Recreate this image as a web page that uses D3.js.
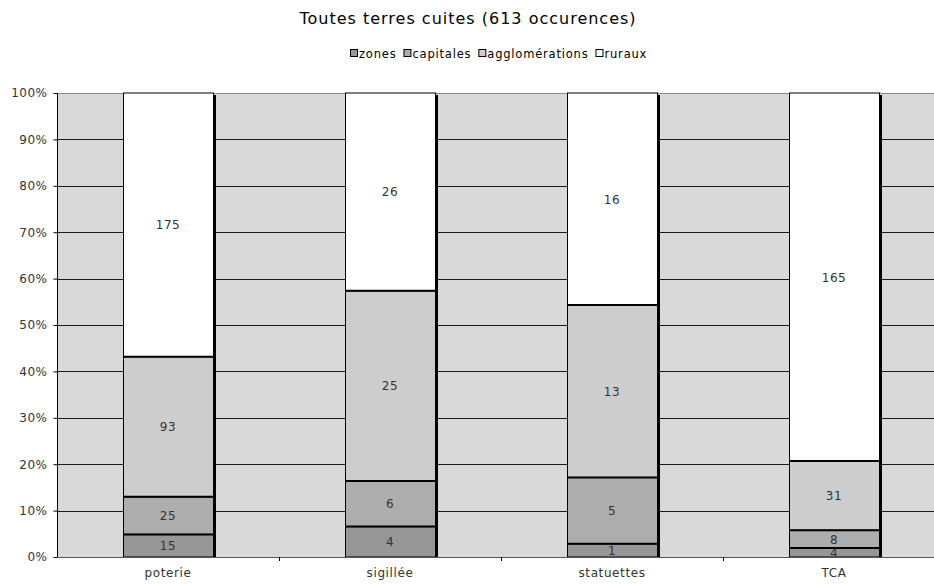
<!DOCTYPE html>
<html>
<head>
<meta charset="utf-8">
<script src="https://cdn.jsdelivr.net/npm/d3@7"></script>
<style>
    body { margin: 0; background: #fff; }
    svg { display: block; font-family: "DejaVu Sans", Verdana, sans-serif; }
</style>
</head>
<body>
<svg id="chart" width="934" height="584"></svg>
<script>
// Chart data
const categories = ['poterie', 'sigillée', 'statuettes', 'TCA'];
const seriesNames = ['zones', 'capitales', 'agglomérations', 'ruraux'];
const zones = [15, 4, 1, 4];
const capitales = [25, 6, 5, 8];
const agglomerations = [93, 25, 13, 31];
const ruraux = [175, 26, 16, 165];
const yTicks = [0, 0.1, 0.2, 0.3, 0.4, 0.5, 0.6, 0.7, 0.8, 0.9, 1];

const seriesColors = ['#969696', '#adadad', '#cdcdcd', '#ffffff'];

const svg = d3.select('#chart');
const width = 934;
const height = 584;
const margin = { top: 93, right: -11, bottom: 27, left: 57 };
const font = '"DejaVu Sans", Verdana, sans-serif';

// Build rows for the stack
const rows = categories.map((c, i) => ({
    category: c,
    zones: zones[i],
    capitales: capitales[i],
    'agglomérations': agglomerations[i],
    ruraux: ruraux[i]
}));

const stack = d3.stack()
    .keys(seriesNames)
    .offset(d3.stackOffsetExpand);
const layers = stack(rows);

const x = d3.scaleBand()
    .domain(categories)
    .range([margin.left, width - margin.right])
    .paddingInner(0.595)
    .paddingOuter(0.2975);

const y = d3.scaleLinear()
    .domain([0, 1])
    .range([height - margin.bottom, margin.top]);

// Title
svg.append('text')
    .attr('x', 468)
    .attr('y', 24)
    .attr('text-anchor', 'middle')
    .attr('font-size', '16px')
    .attr('letter-spacing', '1px')
    .attr('fill', '#000')
    .text('Toutes terres cuites (613 occurences)');

// Plot background
svg.append('rect')
    .attr('x', margin.left)
    .attr('y', margin.top)
    .attr('width', width - margin.left)
    .attr('height', y(0) - y(1))
    .attr('fill', '#d9d9d9');

// Gridlines
svg.append('g')
    .selectAll('line')
    .data(yTicks.filter(t => t > 0))
    .join('line')
    .attr('x1', margin.left)
    .attr('x2', width)
    .attr('y1', d => Math.round(y(d)) + 0.5)
    .attr('y2', d => Math.round(y(d)) + 0.5)
    .attr('stroke', d => d === 1 ? '#8a8a8a' : '#1a1a1a')
    .attr('stroke-width', 1);

// Bars
const barGroups = svg.append('g')
    .selectAll('g')
    .data(layers)
    .join('g')
    .attr('fill', (d, i) => seriesColors[i]);

barGroups.selectAll('rect')
    .data(d => d)
    .join('rect')
    .attr('x', d => Math.round(x(d.data.category)) + 0.5)
    .attr('y', d => y(d[1]))
    .attr('width', Math.round(x.bandwidth()))
    .attr('height', d => y(d[0]) - y(d[1]))
    .attr('stroke', '#000')
    .attr('stroke-width', 1);

// Thicker separators between segments
svg.append('g')
    .selectAll('line')
    .data(layers.slice(0, 3).flatMap(l => l.map(d => ({ cat: d.data.category, v: d[1] }))))
    .join('line')
    .attr('x1', d => Math.round(x(d.cat)))
    .attr('x2', d => Math.round(x(d.cat)) + Math.round(x.bandwidth()))
    .attr('y1', d => y(d.v))
    .attr('y2', d => y(d.v))
    .attr('stroke', '#000')
    .attr('stroke-width', 2);

// Shadow on the right edge of each bar
svg.append('g')
    .selectAll('line')
    .data(categories)
    .join('line')
    .attr('x1', d => Math.round(x(d)) + Math.round(x.bandwidth()) + 1.5)
    .attr('x2', d => Math.round(x(d)) + Math.round(x.bandwidth()) + 1.5)
    .attr('y1', y(1) + 2)
    .attr('y2', y(0))
    .attr('stroke', '#000')
    .attr('stroke-width', 3);

// Value labels
barGroups.selectAll('text')
    .data((d, i) => d.map(p => ({ p, key: seriesNames[i] })))
    .join('text')
    .attr('x', d => x(d.p.data.category) + x.bandwidth() / 2)
    .attr('y', d => (y(d.p[0]) + y(d.p[1])) / 2)
    .attr('dy', '0.38em')
    .attr('text-anchor', 'middle')
    .attr('font-size', '12px')
    .attr('letter-spacing', '0.6px')
    .attr('fill', '#333')
    .text(d => d.p.data[d.key]);

// Y axis
const yAxis = svg.append('g')
    .attr('transform', `translate(${margin.left + 0.5},0)`)
    .call(d3.axisLeft(y)
        .tickValues(yTicks)
        .tickSize(4)
        .tickFormat(d3.format('.0%')));
yAxis.select('.domain').attr('stroke', '#000').attr('d', `M0,${y(1)}V${y(0)}`);
yAxis.selectAll('.tick line').attr('stroke', '#000');
yAxis.selectAll('.tick text')
    .attr('font-family', font)
    .attr('font-size', '12px')
    .attr('letter-spacing', '0.5px')
    .attr('fill', '#333')
    .attr('x', -10);

// X axis
const xAxis = svg.append('g')
    .attr('transform', `translate(0,${Math.round(y(0)) + 0.5})`)
    .call(d3.axisBottom(x).tickSize(0).tickPadding(11));
xAxis.select('.domain').attr('stroke', '#555').attr('d', `M${margin.left},0H${width}`);
xAxis.selectAll('.tick text')
    .attr('font-family', font)
    .attr('font-size', '12px')
    .attr('letter-spacing', '0.6px')
    .attr('fill', '#333');

// Category boundary ticks
const step = x.step();
svg.append('g')
    .selectAll('line')
    .data(d3.range(1, categories.length))
    .join('line')
    .attr('x1', i => Math.round(margin.left + i * step) + 0.5)
    .attr('x2', i => Math.round(margin.left + i * step) + 0.5)
    .attr('y1', y(0))
    .attr('y2', y(0) + 4)
    .attr('stroke', '#000');

// Legend
const legend = svg.append('g').attr('transform', 'translate(350,58)');
let lx = 0;
seriesNames.forEach((name, i) => {
    const item = legend.append('g').attr('transform', `translate(${lx},0)`);
    item.append('rect')
        .attr('x', 0.5)
        .attr('y', -8.5)
        .attr('width', 7)
        .attr('height', 7)
        .attr('fill', seriesColors[i])
        .attr('stroke', '#000');
    const t = item.append('text')
        .attr('x', 9)
        .attr('y', 0)
        .attr('font-size', '11.5px')
        .attr('letter-spacing', '0.8px')
        .attr('fill', '#000')
        .text(name);
    lx += 9 + t.node().getComputedTextLength() + 7;
});
</script>
</body>
</html>
